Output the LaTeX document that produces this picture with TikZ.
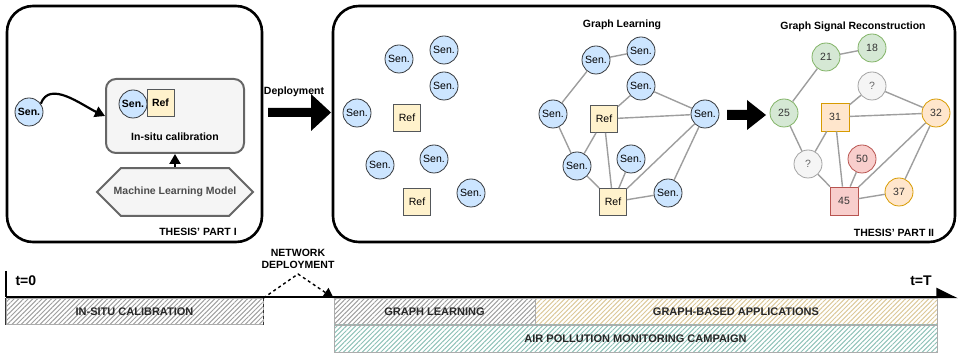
\documentclass[tikz,border=0pt]{standalone}
\usepackage{fontspec}
\setmainfont{Liberation Sans}
\usetikzlibrary{arrows.meta,shapes.misc,patterns.meta}

\definecolor{senfill}{HTML}{CCE5FF}
\definecolor{senline}{HTML}{36393D}
\definecolor{reffill}{HTML}{FFF2CC}
\definecolor{greenfill}{HTML}{D5E8D4}
\definecolor{greenline}{HTML}{82B366}
\definecolor{orangefill}{HTML}{FFE6CC}
\definecolor{orangeline}{HTML}{D79B00}
\definecolor{redfill}{HTML}{F8CECC}
\definecolor{redline}{HTML}{B85450}
\definecolor{greyfill}{HTML}{F5F5F5}
\definecolor{greyline}{HTML}{666666}
\definecolor{edgegrey}{HTML}{9E9E9E}
\definecolor{hatchgrey}{HTML}{A0A0A0}
\definecolor{hatchsand}{HTML}{DCC99A}
\definecolor{hatchteal}{HTML}{8FC2B8}

\tikzset{
  fs/.style={font=\fontsize{#1}{#1}\selectfont},
  bfs/.style={font=\bfseries\fontsize{#1}{#1}\selectfont},
  sen/.style={circle, draw=senline, fill=senfill, line width=0.8pt,
    minimum size=28pt, inner sep=0pt, fs=10.5},
  refbox/.style={rectangle, draw=senline!85, fill=reffill, line width=0.8pt,
    minimum size=27pt, inner sep=0pt, fs=10.5},
  val/.style={circle, line width=0.8pt, minimum size=28pt, inner sep=0pt,
    fs=10.5, text=black!80},
  valsq/.style={rectangle, line width=0.8pt, minimum size=28pt, inner sep=0pt,
    fs=10.5, text=black!80},
  gnode/.style={draw=greenline, fill=greenfill},
  onode/.style={draw=orangeline, fill=orangefill},
  rnode/.style={draw=redline, fill=redfill},
  qnode/.style={draw=greyline!60, fill=greyfill, text=greyline},
  link/.style={draw=edgegrey, line width=1.4pt},
  panel/.style={draw=black, line width=2.6pt, rounded corners=26pt},
  heading/.style={bfs=10.5},
  blockarrow/.style={fill=black},
  bar/.style={draw=gray!65, line width=0.8pt, inner sep=0pt, bfs=11,
    text=black!85},
  hatch/.style={pattern={Lines[angle=45,distance=3.3pt,line width=1pt]},
    pattern color=#1},
  tip/.style={-{Triangle[length=10pt,width=11pt]}},
}

\begin{document}
\begin{tikzpicture}[x=1pt,y=-1pt]
\useasboundingbox (0,0) rectangle (959,355);

% ---------- the two thesis panels ----------
\draw[panel] (7,6) rectangle (262,242);
\draw[panel] (333,6) rectangle (955,242);
\node[bfs=10.5] (part1) at (198,232) {THESIS' PART I};
\node[bfs=10.5] (part2) at (894,233) {THESIS' PART II};

% ---------- part I: in-situ calibration ----------
\node[rectangle, rounded corners=10pt, draw=greyline, fill=greyfill,
  line width=2pt, minimum width=138pt, minimum height=74pt] (calib) at (175,116) {};
\node[bfs=10.5] (calibtxt) at (175,137) {In-situ calibration};
\node[sen, bfs=10.5] (insen) at (133,104) {Sen.};
\node[refbox, bfs=10.5] (inref) at (160.5,103) {Ref};
\node[sen, bfs=10.5] (s0) at (29,112) {Sen.};
\node[chamfered rectangle, chamfered rectangle xsep=13pt,
  chamfered rectangle ysep=19pt, draw=greyline, fill=greyfill, line width=2pt,
  minimum width=156pt, minimum height=38pt, inner sep=0pt,
  bfs=10.5, text=black!70] (mlm) at (175,192) {Machine Learning Model};
\draw[line width=2.2pt, tip] (mlm.north) -- (calib.south);
\draw[line width=2.2pt, tip] (s0.35) to[out=70,in=155] (calib.west);

% deployment arrow between the panels
\node[bfs=10.5] (deploy) at (294,92) {Deployment};
\fill[blockarrow] (268,108) -- (311,108) -- (311,94) -- (331,112.5)
  -- (311,131) -- (311,117) -- (268,117) -- cycle;

% ---------- part II: deployed network ----------
\node[sen] (a1) at (399,59) {Sen.};
\node[sen] (a2) at (444,50) {Sen.};
\node[sen] (a3) at (444,86) {Sen.};
\node[sen] (a4) at (357,113) {Sen.};
\node[refbox] (ar1) at (407,118) {Ref};
\node[sen] (a5) at (380,165) {Sen.};
\node[sen] (a6) at (434,159) {Sen.};
\node[sen] (a7) at (471,193) {Sen.};
\node[refbox] (ar2) at (417,202) {Ref};

% graph learning
\node[heading] (glt) at (622,25) {Graph Learning};
\node[sen] (b1) at (596,60) {Sen.};
\node[sen] (b2) at (641,51) {Sen.};
\node[sen] (b3) at (641,86) {Sen.};
\node[sen] (b4) at (553,114) {Sen.};
\node[refbox] (br1) at (604,119) {Ref};
\node[sen] (b5) at (577,166) {Sen.};
\node[sen] (b6) at (631,159) {Sen.};
\node[refbox] (br2) at (613,202) {Ref};
\node[sen] (b7) at (705,114) {Sen.};
\node[sen] (b8) at (668,193) {Sen.};
\foreach \u/\v in {b1/b2, b1/b4, b3/br1, b3/b7, b4/b5, br1/b7, br1/b5,
  br1/br2, b5/br2, b6/br2, b7/br2, b7/b8, br2/b8}
  \draw[link] (\u) -- (\v);

\fill[blockarrow] (727,110) -- (747,110) -- (747,100) -- (766,115)
  -- (747,130) -- (747,120) -- (727,120) -- cycle;

% graph signal reconstruction
\node[heading] (gsr) at (853,27) {Graph Signal Reconstruction};
\node[val, gnode] (c21) at (826,57) {21};
\node[val, gnode] (c18) at (872,48) {18};
\node[val, qnode] (cq1) at (872,86) {?};
\node[val, gnode] (c25) at (784,113) {25};
\node[valsq, onode] (c31) at (835,117) {31};
\node[val, onode] (c32) at (936,113) {32};
\node[val, qnode] (cq2) at (808,164) {?};
\node[val, rnode] (c50) at (862,159) {50};
\node[valsq, rnode] (c45) at (844,201) {45};
\node[val, onode] (c37) at (899,192) {37};
\foreach \u/\v in {c21/c18, c21/c25, cq1/c31, cq1/c32, c31/c32, c25/cq2,
  c31/cq2, c31/c45, cq2/c45, c50/c45, c32/c45, c32/c37, c45/c37}
  \draw[link] (\u) -- (\v);

% ---------- timeline ----------
\coordinate (t0) at (6,297);
\coordinate (t0top) at (6,271);
\coordinate (tend) at (958,297);
\draw[line width=2.5pt] (t0top) -- (t0);
\draw[line width=2.5pt, -{Triangle[length=19pt,width=18pt,left]}] (t0) -- (tend);
\node[bfs=14, anchor=west] (tzero) at (12,281) {t=0};
\node[bfs=14] (tfinal) at (921,281) {t=T};

\node[bar, hatch=hatchgrey, minimum width=257pt, minimum height=26pt]
  (insitu) at (134.5,311.5) {IN-SITU CALIBRATION};
\draw[line width=1.5pt, black!80] (insitu.north west) -- (insitu.south west);
\draw[line width=1.5pt, black!80, dashed] (insitu.north east) -- (insitu.south east);
\node[bar, hatch=hatchgrey, minimum width=201pt, minimum height=26pt]
  (glbar) at (434.5,311.5) {GRAPH LEARNING};
\node[bar, hatch=hatchsand, minimum width=402pt, minimum height=26pt]
  (gbabar) at (736,311.5) {GRAPH-BASED APPLICATIONS};
\node[bar, hatch=hatchteal, minimum width=603pt, minimum height=27pt]
  (apmbar) at (635.5,338.5) {AIR POLLUTION MONITORING CAMPAIGN};

\node[bfs=10.5, align=center] (netdep) at (298,259)
  {NETWORK\\[1pt]DEPLOYMENT};
\coordinate (ndpeak) at (298,274);
\draw[dashed, line width=1.4pt, tip] (insitu.north east) -- (ndpeak) -- (glbar.north west);
\end{tikzpicture}
\end{document}
